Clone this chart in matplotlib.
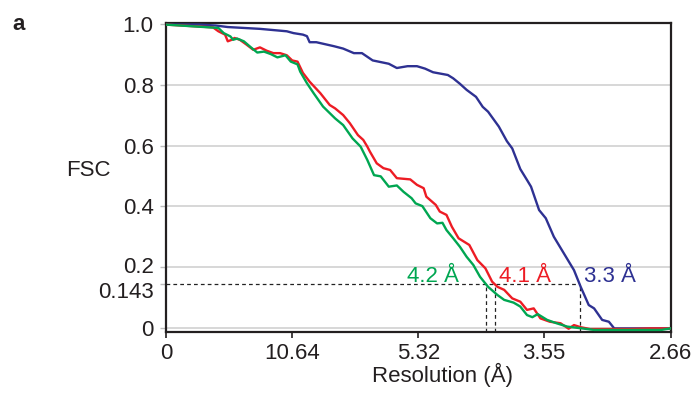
import matplotlib
matplotlib.use("Agg")
import matplotlib.pyplot as plt
import matplotlib.transforms as mtransforms

plt.rcParams['font.family'] = ['Liberation Sans', 'DejaVu Sans']

# ---- data (spatial frequency in 1/Å, FSC) ----
tick_labels = ["0", "10.64", "5.32", "3.55", "2.66"]
tick_res = [None, 10.64, 5.32, 3.55, 2.66]

blue_x = [0, 0.025, 0.037, 0.046, 0.070, 0.090, 0.095, 0.102, 0.105, 0.107, 0.112,
          0.125, 0.132, 0.140, 0.146, 0.154, 0.166, 0.172, 0.180, 0.187, 0.193,
          0.199, 0.210, 0.214, 0.219, 0.224, 0.231, 0.236, 0.240, 0.248, 0.254,
          0.258, 0.264, 0.269, 0.272, 0.278, 0.283, 0.289, 0.298, 0.304, 0.309,
          0.315, 0.319, 0.325, 0.330, 0.334, 0.346, 0.376]
blue_y = [0.999, 0.999, 0.996, 0.991, 0.985, 0.977, 0.971, 0.966, 0.961, 0.941, 0.941,
          0.928, 0.920, 0.905, 0.905, 0.881, 0.870, 0.856, 0.862, 0.862, 0.854,
          0.842, 0.833, 0.822, 0.804, 0.784, 0.761, 0.728, 0.712, 0.663, 0.615,
          0.591, 0.523, 0.487, 0.465, 0.388, 0.361, 0.300, 0.234, 0.190, 0.135,
          0.075, 0.064, 0.026, 0.020, -0.002, -0.002, -0.002]

red_x = [0, 0.035, 0.039, 0.044, 0.046, 0.049, 0.051, 0.055, 0.060, 0.065, 0.070,
         0.075, 0.080, 0.085, 0.090, 0.094, 0.098, 0.102, 0.107, 0.115, 0.122,
         0.126, 0.132, 0.137, 0.143, 0.147, 0.150, 0.152, 0.157, 0.162, 0.167,
         0.172, 0.182, 0.187, 0.192, 0.194, 0.201, 0.204, 0.209, 0.213, 0.218,
         0.226, 0.232, 0.238, 0.243, 0.247, 0.252, 0.258, 0.264, 0.269, 0.274,
         0.279, 0.286, 0.294, 0.300, 0.304, 0.309, 0.316, 0.346, 0.361, 0.376]
red_y = [0.999, 0.990, 0.977, 0.966, 0.944, 0.949, 0.955, 0.949, 0.933, 0.916, 0.924,
         0.913, 0.905, 0.905, 0.898, 0.881, 0.877, 0.840, 0.811, 0.773, 0.734,
         0.723, 0.701, 0.674, 0.635, 0.619, 0.597, 0.580, 0.542, 0.526, 0.520,
         0.493, 0.489, 0.471, 0.460, 0.432, 0.405, 0.383, 0.372, 0.333, 0.295,
         0.273, 0.223, 0.196, 0.152, 0.135, 0.125, 0.097, 0.086, 0.059, 0.064,
         0.031, 0.020, 0.015, -0.003, 0.009, 0.002, -0.004, -0.004, -0.002, -0.002]

green_x = [0, 0.039, 0.043, 0.048, 0.050, 0.053, 0.058, 0.063, 0.068, 0.073, 0.078,
           0.083, 0.089, 0.093, 0.098, 0.100, 0.105, 0.110, 0.117, 0.126, 0.132,
           0.139, 0.145, 0.150, 0.155, 0.160, 0.166, 0.172, 0.177, 0.183, 0.186,
           0.191, 0.197, 0.202, 0.206, 0.209, 0.214, 0.219, 0.224, 0.229, 0.234,
           0.240, 0.247, 0.252, 0.259, 0.264, 0.269, 0.273, 0.277, 0.284, 0.291,
           0.299, 0.310, 0.319, 0.369, 0.376]
green_y = [0.999, 0.988, 0.971, 0.960, 0.949, 0.953, 0.944, 0.925, 0.907, 0.910, 0.902,
           0.891, 0.898, 0.877, 0.868, 0.844, 0.806, 0.773, 0.729, 0.690, 0.668,
           0.624, 0.597, 0.553, 0.503, 0.499, 0.465, 0.469, 0.448, 0.427, 0.410,
           0.401, 0.361, 0.344, 0.346, 0.322, 0.295, 0.267, 0.234, 0.207, 0.168,
           0.135, 0.108, 0.092, 0.083, 0.070, 0.042, 0.035, 0.045, 0.026, 0.015,
           0.004, -0.002, -0.007, -0.007, -0.002]

threshold = 0.143
cross_x = [0.2388, 0.2450, 0.3088]          # green, red, blue crossings
cross_labels = ["4.2 Å", "4.1 Å", "3.3 Å"]
label_x = [0.1796, 0.2480, 0.3113]

c_blue = "#2e3192"
c_red = "#ed1c24"
c_green = "#00a651"
label_colors = [c_green, c_red, c_blue]

fs = 16
fig = plt.figure(figsize=(6.97, 3.93), dpi=100)
ax = fig.add_axes([0.2382, 0.156, 0.962 - 0.2382, 0.9407 - 0.156])

xmax = 1 / 2.66
ax.set_xlim(0, xmax)
ax.set_ylim(-0.0128, 1.0033)

for gy in [0, 0.2, 0.4, 0.6, 0.8]:
    ax.axhline(gy, color="#d4d4d4", lw=1.3, zorder=1)

ax.plot(blue_x, blue_y, color=c_blue, lw=1.7, zorder=3)
ax.plot(red_x, red_y, color=c_red, lw=1.7, zorder=4)
ax.plot(green_x, green_y, color=c_green, lw=1.7, zorder=5)

dash = dict(color="#222222", lw=0.9, ls=(0, (3, 2.5)), zorder=2)
ax.plot([0, cross_x[2]], [threshold, threshold], **dash)
for cx in cross_x:
    ax.plot([cx, cx], [-0.0128, threshold], **dash)

for lx, lab, col in zip(label_x, cross_labels, label_colors):
    ax.text(lx, 0.152, lab, color=col, fontsize=fs, ha="left", va="baseline", zorder=6)

xt = [0] + [1 / r for r in tick_res[1:]]
ax.set_xticks(xt)
ax.set_xticklabels(tick_labels, fontsize=fs, color="#231f20")
yt = [0, threshold, 0.2, 0.4, 0.6, 0.8, 1.0]
ax.set_yticks(yt)
ax.set_yticklabels(["0", "0.143", "0.2", "0.4", "0.6", "0.8", "1.0"], fontsize=fs, color="#231f20")
ax.tick_params(axis="x", length=4, width=1.2, color="#231f20", pad=4)
ax.tick_params(axis="y", length=4, width=1.0, color="#bbbbbb", pad=5)

# nudge the crowded 0.143 / 0.2 labels apart as in the reference
offsets = {1: -6, 2: 2}
for i, tick in enumerate(ax.yaxis.get_major_ticks()):
    if i in offsets:
        tr = mtransforms.ScaledTranslation(0, offsets[i] / 100, fig.dpi_scale_trans)
        tick.label1.set_transform(tick.label1.get_transform() + tr)

for s in ax.spines.values():
    s.set_color("#231f20")
    s.set_linewidth(1.6)

fig.text(88 / 697, 1 - 170 / 393, "FSC", fontsize=fs, ha="center", va="center", color="#231f20")
fig.text(443 / 697, 1 - 375 / 393, "Resolution (Å)", fontsize=fs, ha="center", va="center", color="#231f20")
fig.text(18.5 / 697, 1 - 25 / 393, "a", fontsize=fs, fontweight="bold", ha="center", va="center", color="#231f20")

fig.savefig("out.png", dpi=100)
